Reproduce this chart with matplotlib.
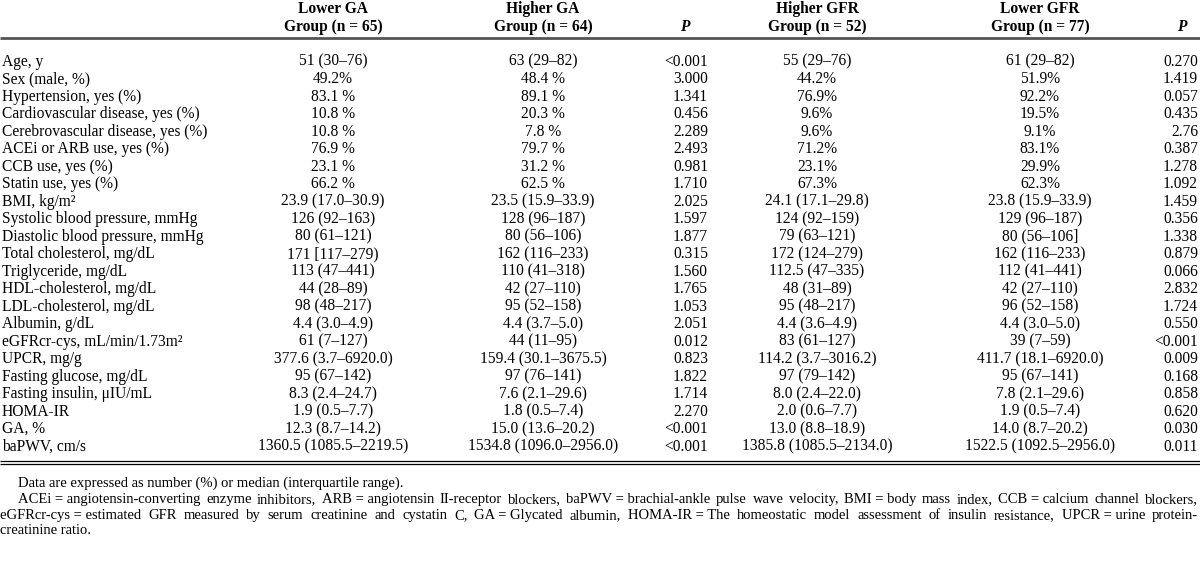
import matplotlib
matplotlib.use("Agg")
import matplotlib.pyplot as plt

plt.rcParams["font.family"] = ["Liberation Serif", "DejaVu Serif"]

row_labels = [
    "Age, y", "Sex (male, %)", "Hypertension, yes (%)", "Cardiovascular disease, yes (%)",
    "Cerebrovascular disease, yes (%)", "ACEi or ARB use, yes (%)", "CCB use, yes (%)",
    "Statin use, yes (%)", "BMI, kg/m²", "Systolic blood pressure, mmHg",
    "Diastolic blood pressure, mmHg", "Total cholesterol, mg/dL", "Triglyceride, mg/dL",
    "HDL-cholesterol, mg/dL", "LDL-cholesterol, mg/dL", "Albumin, g/dL",
    "eGFRcr-cys, mL/min/1.73m²", "UPCR, mg/g", "Fasting glucose, mg/dL",
    "Fasting insulin, μIU/mL", "HOMA-IR", "GA, %", "baPWV, cm/s",
]
lower_ga = [
    "51 (30–76)", "49.2%", "83.1 %", "10.8 %", "10.8 %", "76.9 %", "23.1 %", "66.2 %",
    "23.9 (17.0–30.9)", "126 (92–163)", "80 (61–121)", "171 [117–279)", "113 (47–441)",
    "44 (28–89)", "98 (48–217)", "4.4 (3.0–4.9)", "61 (7–127)", "377.6 (3.7–6920.0)",
    "95 (67–142)", "8.3 (2.4–24.7)", "1.9 (0.5–7.7)", "12.3 (8.7–14.2)",
    "1360.5 (1085.5–2219.5)",
]
higher_ga = [
    "63 (29–82)", "48.4 %", "89.1 %", "20.3 %", "7.8 %", "79.7 %", "31.2 %", "62.5 %",
    "23.5 (15.9–33.9)", "128 (96–187)", "80 (56–106)", "162 (116–233)", "110 (41–318)",
    "42 (27–110)", "95 (52–158)", "4.4 (3.7–5.0)", "44 (11–95)", "159.4 (30.1–3675.5)",
    "97 (76–141)", "7.6 (2.1–29.6)", "1.8 (0.5–7.4)", "15.0 (13.6–20.2)",
    "1534.8 (1096.0–2956.0)",
]
p_ga = [
    "<0.001", "3.000", "1.341", "0.456", "2.289", "2.493", "0.981", "1.710", "2.025",
    "1.597", "1.877", "0.315", "1.560", "1.765", "1.053", "2.051", "0.012", "0.823",
    "1.822", "1.714", "2.270", "<0.001", "<0.001",
]
higher_gfr = [
    "55 (29–76)", "44.2%", "76.9%", "9.6%", "9.6%", "71.2%", "23.1%", "67.3%",
    "24.1 (17.1–29.8)", "124 (92–159)", "79 (63–121)", "172 (124–279)", "112.5 (47–335)",
    "48 (31–89)", "95 (48–217)", "4.4 (3.6–4.9)", "83 (61–127)", "114.2 (3.7–3016.2)",
    "97 (79–142)", "8.0 (2.4–22.0)", "2.0 (0.6–7.7)", "13.0 (8.8–18.9)",
    "1385.8 (1085.5–2134.0)",
]
lower_gfr = [
    "61 (29–82)", "51.9%", "92.2%", "19.5%", "9.1%", "83.1%", "29.9%", "62.3%",
    "23.8 (15.9–33.9)", "129 (96–187)", "80 (56–106]", "162 (116–233)", "112 (41–441)",
    "42 (27–110)", "96 (52–158)", "4.4 (3.0–5.0)", "39 (7–59)", "411.7 (18.1–6920.0)",
    "95 (67–141)", "7.8 (2.1–29.6)", "1.9 (0.5–7.4)", "14.0 (8.7–20.2)",
    "1522.5 (1092.5–2956.0)",
]
p_gfr = [
    "0.270", "1.419", "0.057", "0.435", "2.76", "0.387", "1.278", "1.092", "1.459",
    "0.356", "1.338", "0.879", "0.066", "2.832", "1.724", "0.550", "<0.001", "0.009",
    "0.168", "0.858", "0.620", "0.030", "0.011",
]
headers = ["Lower GA\nGroup (n = 65)", "Higher GA\nGroup (n = 64)",
           "Higher GFR\nGroup (n = 52)", "Lower GFR\nGroup (n = 77)"]

notes = [
    "Data are expressed as number (%) or median (interquartile range).",
    "ACEi~=~angiotensin-converting enzyme inhibitors, ARB~=~angiotensin II-receptor blockers, "
    "baPWV~=~brachial-ankle pulse wave velocity, BMI~=~body mass index, CCB~=~calcium channel blockers,",
    "eGFRcr-cys~=~estimated GFR measured by serum creatinine and cystatin C, GA~=~Glycated albumin, "
    "HOMA-IR~=~The homeostatic model assessment of insulin resistance, UPCR~=~urine protein-",
    "creatinine ratio.",
]

FS = 11.2      # body text
FS_NOTE = 10.5

fig = plt.figure(figsize=(12, 5.61), dpi=100)
ax = fig.add_axes([0, 0, 1, 1])
ax.set_xlim(0, 1200)
ax.set_ylim(561, 0)
ax.axis("off")

# column layout (pixels)
x_label = 2
x_cols = [333, 543, 817, 1040]
x_p = [708, 1198]
x_ph = [685, 1182]
y0, dy = 65.5, 17.5   # baseline of first row, row pitch

# header
for x, h in zip(x_cols, headers):
    top, bot = h.split("\n")
    ax.text(x, 13, top, ha="center", va="baseline", fontsize=FS, fontweight="bold")
    ax.text(x, 30.5, bot, ha="center", va="baseline", fontsize=FS, fontweight="bold")
for x in x_ph:
    ax.text(x, 30.5, "P", ha="center", va="baseline", fontsize=FS,
            fontweight="bold", fontstyle="italic")

ax.plot([0, 1200], [38, 38], color="#555555", lw=2.0, solid_capstyle="butt")

for i, lab in enumerate(row_labels):
    y = y0 + i * dy
    ax.text(x_label, y, lab, ha="left", va="baseline", fontsize=FS)
    for x, col in zip(x_cols, [lower_ga, higher_ga, higher_gfr, lower_gfr]):
        ax.text(x, y, col[i], ha="center", va="baseline", fontsize=FS)
    ax.text(x_p[0], y, p_ga[i], ha="right", va="baseline", fontsize=FS)
    ax.text(x_p[1], y, p_gfr[i], ha="right", va="baseline", fontsize=FS)

ax.plot([0, 1200], [461, 461], color="black", lw=0.9, solid_capstyle="butt")
ax.plot([0, 1200], [463.5, 463.5], color="black", lw=0.9, solid_capstyle="butt")

renderer = fig.canvas.get_renderer()


def justify(line, x0, x1, y):
    words = [w.replace("~", " ") for w in line.split(" ")]
    texts = [ax.text(0, y, w, ha="left", va="baseline", fontsize=FS_NOTE) for w in words]
    widths = [t.get_window_extent(renderer).width for t in texts]
    gap = (x1 - x0 - sum(widths)) / (len(words) - 1)
    x = x0
    for t, w in zip(texts, widths):
        t.set_x(x)
        x += w + gap


ax.text(18, 487, notes[0], ha="left", va="baseline", fontsize=FS_NOTE)
justify(notes[1], 18, 1198, 503)
justify(notes[2], 0, 1198, 519)
ax.text(0, 534, notes[3], ha="left", va="baseline", fontsize=FS_NOTE)

fig.savefig("out.png", dpi=100, facecolor="white")
